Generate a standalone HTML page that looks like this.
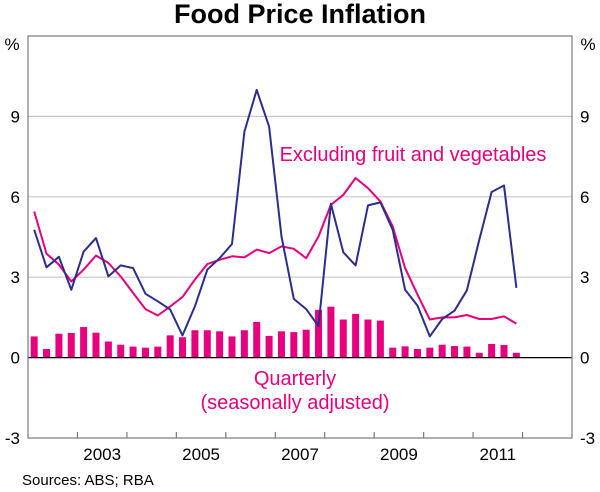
<!DOCTYPE html>
<html><head><meta charset="utf-8"><style>
html,body{margin:0;padding:0;background:#fff;}
svg{display:block;font-family:"Liberation Sans",Arial,sans-serif;}
</style></head><body>
<svg id="chart" width="600" height="492" viewBox="0 0 600 492" xmlns="http://www.w3.org/2000/svg">
<text x="300" y="23" text-anchor="middle" font-size="27" font-weight="bold" fill="#000">Food Price Inflation</text>
<g id="grid"></g>
<g id="bars"></g>
<g id="lines"></g>
<g id="axes"></g>
<text x="413" y="161" text-anchor="middle" font-size="20" fill="#e6007e">Excluding fruit and vegetables</text>
<text x="295" y="385" text-anchor="middle" font-size="20" fill="#e6007e">Quarterly</text>
<text x="295" y="409" text-anchor="middle" font-size="20" fill="#e6007e">(seasonally adjusted)</text>
<text x="22" y="485" font-size="15" fill="#000">Sources: ABS; RBA</text>
</svg>
<script>
const yTicks = [-3, 0, 3, 6, 9];
const yearLabels = ["2003", "2005", "2007", "2009", "2011"];
const yearLabelValues = [2003, 2005, 2007, 2009, 2011];
const headline = [4.77,3.37,3.76,2.53,3.95,4.46,3.03,3.44,3.34,2.38,2.10,1.79,0.83,1.91,3.28,3.71,4.24,8.43,9.99,8.62,4.52,2.19,1.81,1.17,5.74,3.93,3.44,5.68,5.79,4.77,2.53,1.94,0.79,1.44,1.75,2.51,4.40,6.18,6.42,2.60];
const exFruitVeg = [5.45,3.88,3.47,2.84,3.28,3.81,3.53,3.03,2.41,1.81,1.57,1.91,2.26,2.91,3.49,3.65,3.78,3.74,4.03,3.90,4.15,4.06,3.71,4.52,5.70,6.07,6.70,6.32,5.83,4.89,3.34,2.35,1.42,1.50,1.50,1.59,1.44,1.44,1.54,1.27];
const quarterly = [0.79,0.32,0.89,0.92,1.14,0.93,0.60,0.48,0.41,0.37,0.41,0.83,0.76,1.02,1.02,0.98,0.79,1.02,1.33,0.81,0.98,0.95,1.04,1.78,1.90,1.42,1.63,1.42,1.38,0.37,0.42,0.32,0.37,0.48,0.43,0.41,0.18,0.51,0.47,0.18];

const NS="http://www.w3.org/2000/svg";
const L=28,R=572,T=36,B=438;
const yMin=-3,yMax=12,xStart=2002,xEnd=2013;
function y(v){return B-(v-yMin)/(yMax-yMin)*(B-T);}
function xYear(yr){return L+(yr-xStart)/(xEnd-xStart)*(R-L);}
function xQ(i){return xYear(xStart+(i+0.5)/4);}
function mk(tag,attrs,parent){const e=document.createElementNS(NS,tag);for(const k in attrs)e.setAttribute(k,attrs[k]);parent.appendChild(e);return e;}
const grid=document.getElementById('grid'),bars=document.getElementById('bars'),lines=document.getElementById('lines'),axes=document.getElementById('axes');

yTicks.forEach(v=>{
  if(v!==0&&v!==-3){const g=mk('line',{x1:L,x2:R,y1:y(v),y2:y(v),stroke:'#c8c8c8','stroke-width':1.2},grid);
  
  }
  const tl=mk('text',{x:20,y:y(v)+6,'text-anchor':'end','font-size':17},axes);tl.textContent=v;
  
  
  const tr=mk('text',{x:580,y:y(v)+6,'text-anchor':'start','font-size':17},axes);tr.textContent=v;
  
  
});
const pl=mk('text',{x:12,y:y(12)+14,'text-anchor':'middle','font-size':17},axes);pl.textContent='%';


const pr=mk('text',{x:588,y:y(12)+14,'text-anchor':'middle','font-size':17},axes);pr.textContent='%';



quarterly.forEach((v,i)=>{
  const b=mk('rect',{x:xQ(i)-3.5,y:Math.min(y(v),y(0)),width:7,height:Math.abs(y(0)-y(v)),fill:'#e6007e'},bars);
  
  
});
function path(arr){return arr.map((v,i)=>(i?'L':'M')+xQ(i).toFixed(1)+' '+y(v).toFixed(1)).join(' ');}
const p1=mk('path',{d:path(exFruitVeg),fill:'none',stroke:'#e6007e','stroke-width':2,'stroke-linejoin':'round'},lines);


const p2=mk('path',{d:path(headline),fill:'none',stroke:'#2b2e8c','stroke-width':2,'stroke-linejoin':'round'},lines);



const zl=mk('line',{x1:L,x2:R,y1:y(0),y2:y(0),stroke:'#000','stroke-width':1.2},axes);


const fr=mk('rect',{x:L,y:T,width:R-L,height:B-T,fill:'none',stroke:'#7a7a7a','stroke-width':1.2},axes);


for(let yr=xStart+1;yr<xEnd;yr++){
  const t=mk('line',{x1:xYear(yr),x2:xYear(yr),y1:B,y2:B-6,stroke:'#7a7a7a','stroke-width':1.2},axes);
  
  
}
yearLabels.forEach((s,i)=>{
  const t=mk('text',{x:xYear(yearLabelValues[i]+0.5),y:460,'text-anchor':'middle','font-size':17},axes);t.textContent=s;
  
  
});
</script>
</body></html>
